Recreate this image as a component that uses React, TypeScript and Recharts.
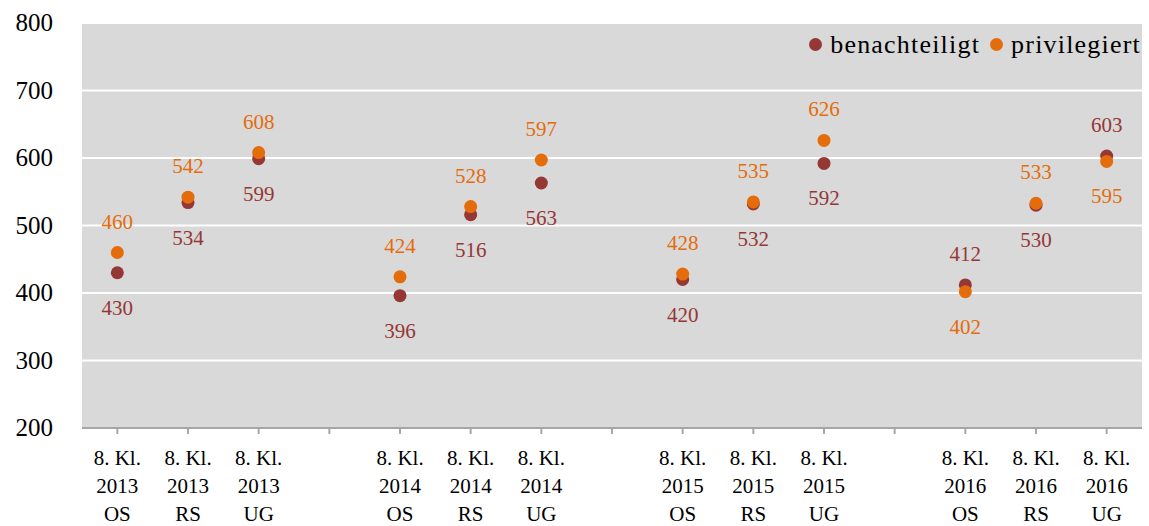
import {
  CartesianGrid,
  ComposedChart,
  LabelList,
  Line,
  XAxis,
  YAxis,
} from 'recharts';

const years = ['2013', '2014', '2015', '2016'];
const schoolTypes = ['OS', 'RS', 'UG'];
const benachteiligt = [430, 534, 599, 396, 516, 563, 420, 532, 592, 412, 530, 603];
const privilegiert = [460, 542, 608, 424, 528, 597, 428, 535, 626, 402, 533, 595];
const yTicks = [200, 300, 400, 500, 600, 700, 800];

const RED = '#953735';
const ORANGE = '#E46C0A';
const FONT = '"Liberation Serif", "Times New Roman", serif';

interface Row {
  cat: string;
  b: number | null;
  p: number | null;
}

const data: Row[] = [];
years.forEach((year, yi) => {
  schoolTypes.forEach((st, si) => {
    const i = yi * 3 + si;
    data.push({ cat: `8. Kl.|${year}|${st}`, b: benachteiligt[i], p: privilegiert[i] });
  });
  if (yi < years.length - 1) data.push({ cat: `gap${yi}`, b: null, p: null });
});

function CatTick(props: any) {
  const { x, y, payload } = props;
  if (String(payload.value).startsWith('gap')) return null;
  const lines = String(payload.value).split('|');
  return (
    <text x={x} y={y} textAnchor="middle" style={{ fontFamily: FONT, fontSize: 21 }} fill="#000">
      {lines.map((l, i) => (
        <tspan key={i} x={x} dy={i === 0 ? 29 : 28}>
          {l}
        </tspan>
      ))}
    </text>
  );
}

function YTick(props: any) {
  const { x, y, payload } = props;
  return (
    <text x={x} y={y} dy={8} textAnchor="end" style={{ fontFamily: FONT, fontSize: 25 }} fill="#000">
      {payload.value}
    </text>
  );
}

function makeLabel(key: 'b' | 'p', color: string) {
  return (props: any) => {
    const { x, y, index } = props;
    const row = data[index];
    if (!row || row[key] == null) return null;
    const other = key === 'b' ? row.p : row.b;
    const above = (row[key] as number) >= (other as number);
    return (
      <text
        x={x}
        y={above ? y - 31 : y + 35}
        textAnchor="middle"
        dominantBaseline="central"
        style={{ fontFamily: FONT, fontSize: 21 }}
        fill={color}
      >
        {row[key]}
      </text>
    );
  };
}

function LegendBox() {
  const item = (color: string, label: string) => (
    <span style={{ display: 'inline-flex', alignItems: 'center', marginLeft: 10 }}>
      <span
        style={{
          width: 13,
          height: 13,
          borderRadius: '50%',
          background: color,
          display: 'inline-block',
          marginRight: 8,
        }}
      />
      <span>{label}</span>
    </span>
  );
  return (
    <div
      style={{
        position: 'absolute',
        top: 28,
        right: 8,
        fontFamily: FONT,
        fontSize: 26,
        letterSpacing: 1.2,
        lineHeight: '30px',
        color: '#000',
        whiteSpace: 'nowrap',
      }}
    >
      {item(RED, 'benachteiligt')}
      {item(ORANGE, 'privilegiert')}
    </div>
  );
}

export default function App() {
  return (
    <div style={{ position: 'absolute', left: 0, top: 0, width: 1149, height: 526 }}>
      <ComposedChart
        width={1149}
        height={526}
        data={data}
        margin={{ top: 23, right: 7, bottom: 0, left: 0 }}
      >
        <CartesianGrid
          vertical={false}
          fill="#d9d9d9"
          stroke="#ffffff"
          strokeWidth={2}
          fillOpacity={1}
        />
        <XAxis
          dataKey="cat"
          scale="band"
          interval={0}
          height={98}
          tick={<CatTick />}
          tickSize={6}
          axisLine={{ stroke: '#a6a6a6', strokeWidth: 2 }}
          tickLine={{ stroke: '#a6a6a6', strokeWidth: 2 }}
        />
        <YAxis
          domain={[200, 800]}
          ticks={yTicks}
          width={82}
          axisLine={false}
          tickLine={false}
          tickSize={0}
          tickMargin={29}
          tick={<YTick />}
        />
        <Line
          dataKey="b"
          stroke="none"
          dot={{ r: 6.5, fill: RED, stroke: 'none' }}
          activeDot={false}
          isAnimationActive={false}
        >
          <LabelList dataKey="b" content={makeLabel('b', RED)} />
        </Line>
        <Line
          dataKey="p"
          stroke="none"
          dot={{ r: 6.5, fill: ORANGE, stroke: 'none' }}
          activeDot={false}
          isAnimationActive={false}
        >
          <LabelList dataKey="p" content={makeLabel('p', ORANGE)} />
        </Line>
      </ComposedChart>
      <LegendBox />
    </div>
  );
}
